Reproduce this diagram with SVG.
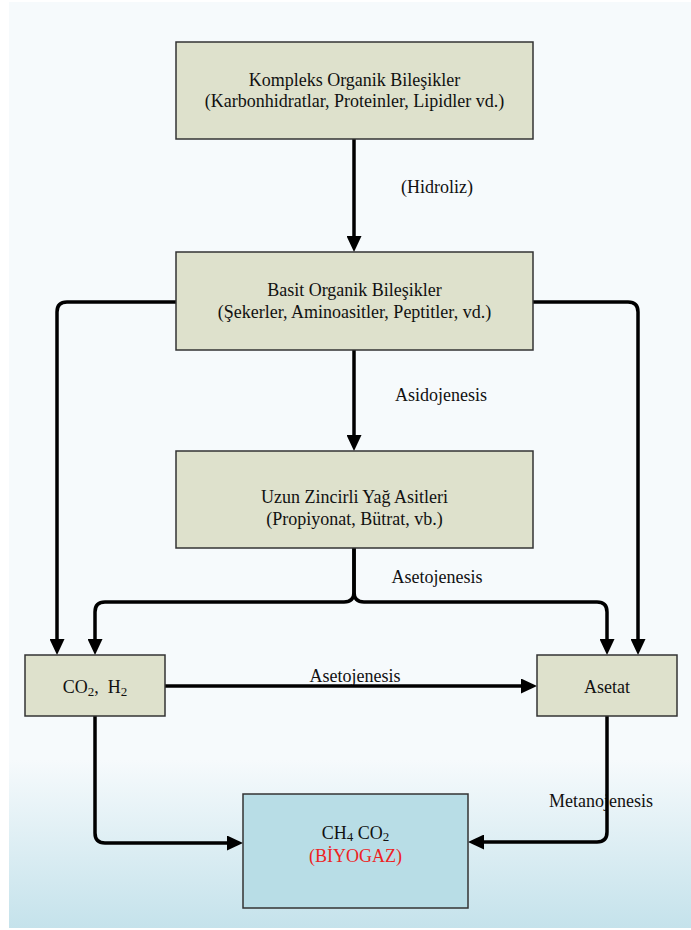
<svg xmlns="http://www.w3.org/2000/svg" width="691" height="930" viewBox="0 0 691 930">
<defs>
<linearGradient id="bg" gradientUnits="userSpaceOnUse" x1="0" y1="760" x2="0" y2="930">
<stop offset="0" stop-color="#f6fafc"/>
<stop offset="1" stop-color="#c4e2eb"/>
</linearGradient>
<marker id="ah" markerUnits="userSpaceOnUse" markerWidth="16" markerHeight="15" viewBox="0 0 16 15" refX="6" refY="7.5" orient="auto">
<path d="M0,0 L16,7.5 L0,15 z" fill="#000"/>
</marker>
<style>
.box{fill:#dee1cc;stroke:#333;stroke-width:1.5}
.gas{fill:#b8dde6;stroke:#333;stroke-width:1.5}
text{font-family:'Liberation Serif','Times New Roman','DejaVu Serif',serif;font-size:18px;fill:#111;text-anchor:middle;white-space:pre}
.c{fill:none;stroke:#000;stroke-width:3.5;marker-end:url(#ah)}
.red{fill:#ee2222}
</style>
</defs>
<rect x="0" y="0" width="691" height="930" fill="#ffffff"/>
<rect x="9" y="2" width="682" height="926" fill="url(#bg)"/>

<g id="labels" font-family="Liberation Serif, serif">
<text x="437" y="193">(Hidroliz)</text>
<text x="441" y="401">Asidojenesis</text>
<text x="437" y="583">Asetojenesis</text>
<text x="355" y="682">Asetojenesis</text>
<text x="601" y="807">Metanojenesis</text>
</g>

<g id="connectors">
<path class="c" d="M354,139 V242"/>
<path class="c" d="M354,350 V441"/>
<path class="c" d="M354,548 V592 Q354,602 344,602 H105 Q95,602 95,612 V645"/>
<path class="c" d="M354,548 V592 Q354,602 364,602 H597 Q607,602 607,612 V645"/>
<path class="c" d="M176,302 H67 Q57,302 57,312 V645"/>
<path class="c" d="M533,302 H628 Q638,302 638,312 V645"/>
<path class="c" d="M165,686 H527"/>
<path class="c" d="M95,716 V833 Q95,843 105,843 H233"/>
<path class="c" d="M607,716 V832 Q607,842 597,842 H478"/>
</g>

<g id="kompleks" font-family="Liberation Serif, serif">
<rect class="box" x="176" y="42" width="357" height="97"/>
<text x="354.5" y="86">Kompleks Organik Bileşikler</text>
<text x="354.5" y="107">(Karbonhidratlar, Proteinler, Lipidler vd.)</text>
</g>

<g id="basit" font-family="Liberation Serif, serif">
<rect class="box" x="176" y="252" width="357" height="98"/>
<text x="354.5" y="296">Basit Organik Bileşikler</text>
<text x="354.5" y="318">(Şekerler, Aminoasitler, Peptitler, vd.)</text>
</g>

<g id="uzun" font-family="Liberation Serif, serif">
<rect class="box" x="176" y="451" width="357" height="97"/>
<text x="354.5" y="503">Uzun Zincirli Yağ Asitleri</text>
<text x="354.5" y="525">(Propiyonat, Bütrat, vb.)</text>
</g>

<g id="co2h2" font-family="Liberation Serif, serif">
<rect class="box" x="25" y="655" width="140" height="61"/>
<text x="95" y="693">CO<tspan font-size="13" dy="3">2</tspan><tspan dy="-3">,  H</tspan><tspan font-size="13" dy="3">2</tspan></text>
</g>

<g id="asetat" font-family="Liberation Serif, serif">
<rect class="box" x="537" y="655" width="140" height="61"/>
<text x="607" y="693">Asetat</text>
</g>

<g id="biyogaz" font-family="Liberation Serif, serif">
<rect class="gas" x="243" y="794" width="225" height="114"/>
<text x="355.5" y="839">CH<tspan font-size="13" dy="2">4</tspan><tspan dy="-2"> CO</tspan><tspan font-size="13" dy="2">2</tspan></text>
<text class="red" x="355.5" y="862">(BİYOGAZ)</text>
</g>
</svg>
